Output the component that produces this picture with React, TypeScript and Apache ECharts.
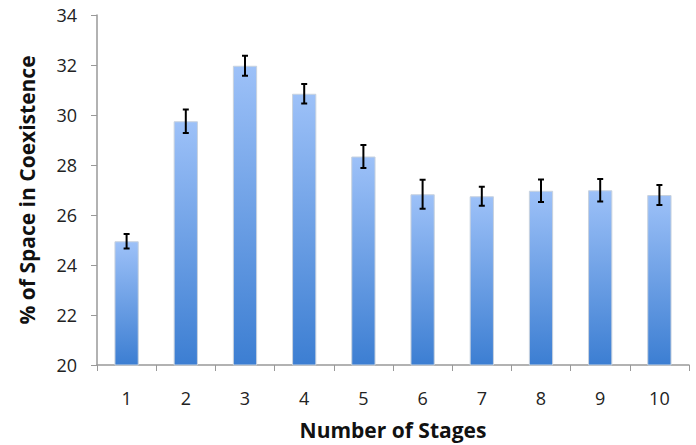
import React, { useEffect, useRef } from "react";
import * as echarts from "echarts";

const categories = ["1", "2", "3", "4", "5", "6", "7", "8", "9", "10"];
const values = [24.95, 29.75, 31.97, 30.85, 28.34, 26.83, 26.75, 26.97, 26.99, 26.8];
const errors = [0.29, 0.47, 0.4, 0.39, 0.46, 0.58, 0.38, 0.45, 0.45, 0.4];
const yTicks = { min: 20, max: 34, interval: 2 };

export default function App() {
  const ref = useRef<HTMLDivElement>(null);
  useEffect(() => {
    if (!ref.current) return;
    const chart = echarts.init(ref.current, null, { renderer: "svg" });
    const font = "Open Sans";
    const errData = values.map((v, i) => [i, v - errors[i], v + errors[i]]);
    chart.setOption({
      animation: false,
      grid: { left: 97, right: 7, top: 15, bottom: 78 },
      xAxis: {
        type: "category",
        data: categories,
        name: "Number of Stages",
        nameLocation: "middle",
        nameGap: 54,
        nameTextStyle: { fontFamily: font, fontWeight: "bold", fontSize: 21, color: "#111" },
        axisLine: { lineStyle: { color: "#999", width: 1.5 } },
        axisTick: { show: true, length: 6, alignWithLabel: false, lineStyle: { color: "#999" } },
        axisLabel: { fontFamily: font, fontSize: 18, color: "#222", margin: 24 },
      },
      yAxis: {
        type: "value",
        min: yTicks.min,
        max: yTicks.max,
        interval: yTicks.interval,
        name: "% of Space in Coexistence",
        nameLocation: "middle",
        nameGap: 60,
        nameTextStyle: { fontFamily: font, fontWeight: "bold", fontSize: 21, color: "#111" },
        axisLine: { show: true, lineStyle: { color: "#999", width: 1.5 } },
        axisTick: { show: true, length: 6, lineStyle: { color: "#999" } },
        axisLabel: { fontFamily: font, fontSize: 18, color: "#222", margin: 20 },
        splitLine: { show: false },
      },
      series: [
        {
          type: "bar",
          data: values,
          barWidth: "41%",
          itemStyle: {
            color: new echarts.graphic.LinearGradient(0, 0, 0, 1, [
              { offset: 0, color: "#9dc1f8" },
              { offset: 1, color: "#3c7ed2" },
            ]),
            borderColor: "#c8d2de",
            borderWidth: 1,
          },
        },
        {
          type: "custom",
          data: errData,
          z: 10,
          renderItem: (params: any, api: any) => {
            const i = api.value(0);
            const lo = api.coord([i, api.value(1)]);
            const hi = api.coord([i, api.value(2)]);
            const x = lo[0];
            const w = 3;
            const style = { stroke: "#000", lineWidth: 2 };
            return {
              type: "group",
              children: [
                { type: "line", shape: { x1: x, y1: lo[1], x2: x, y2: hi[1] }, style },
                { type: "line", shape: { x1: x - w, y1: lo[1], x2: x + w, y2: lo[1] }, style },
                { type: "line", shape: { x1: x - w, y1: hi[1], x2: x + w, y2: hi[1] }, style },
              ],
            };
          },
        },
      ],
    });
    return () => chart.dispose();
  }, []);
  return (
    <div
      ref={ref}
      style={{ position: "absolute", left: 0, top: 0, width: 696, height: 445 }}
    />
  );
}
